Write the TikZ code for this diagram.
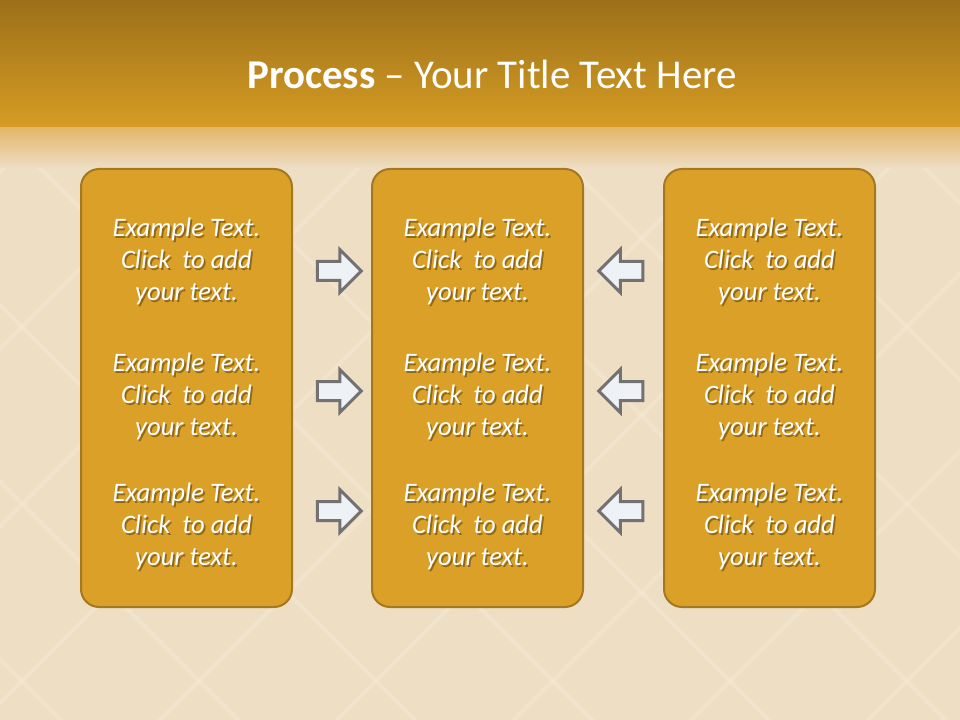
\documentclass[tikz,border=0pt]{standalone}
\usepackage{fontspec}
\setmainfont{Carlito}
\usetikzlibrary{shapes.arrows,positioning}
\definecolor{hdrtop}{HTML}{9C7019}
\definecolor{hdrbot}{HTML}{D69C24}
\definecolor{hdrfade}{HTML}{E3B464}
\definecolor{paper}{HTML}{EEDEC4}
\definecolor{lace}{HTML}{F7ECDA}
\definecolor{cardfill}{HTML}{DBA028}
\definecolor{cardline}{HTML}{A27820}
\definecolor{arrfill}{HTML}{EEF2F6}
\definecolor{arrline}{HTML}{727272}

\begin{document}
\begin{tikzpicture}[x=0.75pt,y=-0.75pt,
  card/.style={draw=cardline, line width=1.5pt, fill=cardfill,
               rounded corners=13.5pt, minimum width=158.25pt,
               minimum height=328.5pt, inner sep=0pt},
  txt/.style ={text=white, align=center,
               font=\fontsize{20}{24}\selectfont\itshape},
  shd/.style ={txt, text=black, opacity=0.35},
  blk/.style ={single arrow, draw=arrline, fill=arrfill, line width=2.25pt,
               single arrow head extend=9pt, inner xsep=0pt, inner ysep=6pt,
               minimum height=33pt},
  ttl/.style ={text=white, font=\fontsize{30.7}{36}\selectfont}
]
\useasboundingbox (0,0) rectangle (960,720);

%% background
\fill[paper] (0,0) rectangle (960,720);
\begin{scope}
  \clip (0,128) rectangle (960,720);
  \foreach \k in {-6,...,8}{
    \draw[lace, line width=3pt, opacity=0.4] (\k*177+22,150) -- ++(700,700);
    \draw[lace, line width=3pt, opacity=0.4] (\k*177+22,150) -- ++(-700,700);
  }
\end{scope}
\shade[top color=hdrfade, bottom color=paper] (0,126) rectangle (960,168);
\shade[top color=hdrtop, bottom color=hdrbot] (0,0) rectangle (960,127);

%% title
\node[ttl] (title) at (492,74) {\textbf{Process} – Your Title Text Here};

%% cards and texts
\foreach \c/\x in {l/186.5, m/477.5, r/769.5}{
  \node[card] (\c) at (\x,388) {};
  \foreach \r/\y in {1/261, 2/396, 3/526}{
    \node[shd] (\c\r s) at ([xshift=1.3pt,yshift=-1.5pt]\x,\y)
      {Example Text.\\Click~ to add\\your text.};
    \node[txt] (\c\r) at (\x,\y) {Example Text.\\Click~ to add\\your text.};
  }
}

%% arrows
\foreach \r/\y in {1/271, 2/391, 3/511}{
  \node[blk] (a\r) at (334.5,\y) {};
  \node[blk, shape border rotate=180] (b\r) at (625.5,\y) {};
}
\end{tikzpicture}
\end{document}
